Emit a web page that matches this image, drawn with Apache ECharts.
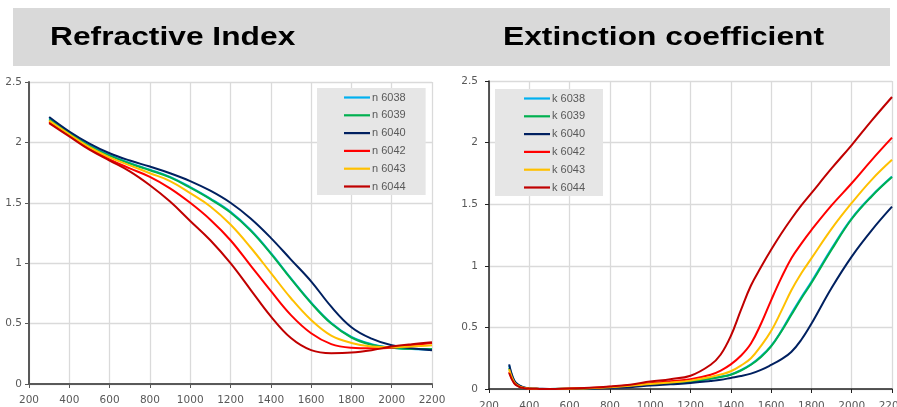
<!DOCTYPE html>
<html>
<head>
<meta charset="utf-8">
<script src="https://cdn.jsdelivr.net/npm/echarts@6/dist/echarts.min.js"></script>
<style>
html,body{margin:0;padding:0;background:#fff;}
#c{width:897px;height:407px;}
</style>
</head>
<body>
<div id="c"></div>
<script>
// ---- Data ----
const titleN = "Refractive Index";
const titleK = "Extinction coefficient";
const sampleIds = ["6038", "6039", "6040", "6042", "6043", "6044"];
const xTicks = [200, 400, 600, 800, 1000, 1200, 1400, 1600, 1800, 2000, 2200];
const yTicks = [0, 0.5, 1, 1.5, 2, 2.5];

// wavelength (nm) for refractive index curves
const wlN = [300, 400, 500, 600, 700, 800, 900, 1000, 1100, 1200, 1300, 1400, 1500, 1600, 1700, 1800, 1900, 2000, 2100, 2200];
const n6038 = [2.20, 2.08, 1.975, 1.895, 1.83, 1.775, 1.715, 1.63, 1.535, 1.425, 1.275, 1.085, 0.875, 0.675, 0.505, 0.39, 0.33, 0.30, 0.29, 0.285];
const n6039 = [2.19, 2.075, 1.97, 1.89, 1.825, 1.77, 1.71, 1.625, 1.53, 1.42, 1.27, 1.08, 0.87, 0.67, 0.50, 0.385, 0.325, 0.30, 0.29, 0.29];
const n6040 = [2.21, 2.09, 1.99, 1.91, 1.85, 1.80, 1.745, 1.68, 1.60, 1.50, 1.37, 1.21, 1.03, 0.85, 0.64, 0.47, 0.375, 0.32, 0.295, 0.28];
const n6042 = [2.17, 2.06, 1.95, 1.86, 1.785, 1.715, 1.62, 1.50, 1.36, 1.19, 0.98, 0.77, 0.57, 0.42, 0.33, 0.30, 0.295, 0.30, 0.32, 0.34];
const n6043 = [2.18, 2.067, 1.96, 1.876, 1.81, 1.745, 1.68, 1.58, 1.47, 1.32, 1.13, 0.92, 0.71, 0.53, 0.40, 0.34, 0.31, 0.305, 0.31, 0.32];
const n6044 = [2.16, 2.05, 1.94, 1.85, 1.76, 1.645, 1.51, 1.35, 1.19, 1.00, 0.78, 0.56, 0.38, 0.28, 0.255, 0.26, 0.28, 0.31, 0.33, 0.345];

// wavelength (nm) for extinction coefficient curves
const wlK = [300, 325, 350, 375, 400, 450, 500, 600, 700, 800, 900, 1000, 1100, 1200, 1300, 1350, 1400, 1450, 1500, 1550, 1600, 1650, 1700, 1750, 1800, 1900, 2000, 2100, 2200];
const k6038 = [0.19, 0.065, 0.027, 0.011, 0.004, 0.001, 0, 0.002, 0.005, 0.012, 0.022, 0.035, 0.047, 0.061, 0.085, 0.099, 0.118, 0.153, 0.20, 0.265, 0.35, 0.47, 0.61, 0.745, 0.87, 1.14, 1.385, 1.57, 1.725];
const k6039 = [0.17, 0.06, 0.025, 0.01, 0.004, 0.001, 0, 0.002, 0.005, 0.012, 0.022, 0.035, 0.047, 0.060, 0.083, 0.097, 0.116, 0.15, 0.197, 0.26, 0.346, 0.465, 0.60, 0.735, 0.86, 1.13, 1.38, 1.565, 1.72];
const k6040 = [0.20, 0.07, 0.03, 0.012, 0.005, 0.002, 0, 0, 0.003, 0.008, 0.015, 0.028, 0.038, 0.048, 0.065, 0.075, 0.09, 0.105, 0.125, 0.155, 0.195, 0.24, 0.30, 0.40, 0.53, 0.82, 1.075, 1.29, 1.48];
const k6042 = [0.14, 0.05, 0.02, 0.008, 0.003, 0.001, 0, 0.004, 0.009, 0.018, 0.03, 0.047, 0.062, 0.08, 0.116, 0.15, 0.20, 0.27, 0.37, 0.53, 0.72, 0.90, 1.06, 1.18, 1.29, 1.49, 1.67, 1.86, 2.04];
const k6043 = [0.16, 0.055, 0.022, 0.009, 0.004, 0.001, 0, 0.003, 0.007, 0.015, 0.026, 0.04, 0.053, 0.068, 0.097, 0.117, 0.144, 0.19, 0.25, 0.35, 0.47, 0.63, 0.80, 0.94, 1.06, 1.30, 1.51, 1.70, 1.86];
const k6044 = [0.13, 0.045, 0.018, 0.007, 0.003, 0.001, 0, 0.005, 0.01, 0.02, 0.035, 0.06, 0.08, 0.108, 0.197, 0.28, 0.43, 0.64, 0.84, 0.99, 1.13, 1.26, 1.38, 1.49, 1.59, 1.79, 1.98, 2.18, 2.37];

const nSeries = [n6038, n6039, n6040, n6042, n6043, n6044];
const kSeries = [k6038, k6039, k6040, k6042, k6043, k6044];
const colors = ["#00b0f0", "#00b050", "#002060", "#ff0000", "#ffc000", "#c00000"];

// ---- Chart ----
const chart = echarts.init(document.getElementById('c'), null, {renderer: 'canvas'});
const labelFont = {fontFamily: 'DejaVu Sans', fontSize: 10.5, color: '#595959'};

function xAx(gridIndex, axisColor, axisWidth, margin) {
  return {
    type: 'value', gridIndex: gridIndex, min: xTicks[0], max: xTicks[xTicks.length - 1], interval: 200,
    axisLine: {show: true, onZero: false, lineStyle: {color: axisColor, width: axisWidth}},
    axisTick: {show: true, length: 4, lineStyle: {color: axisColor}},
    axisLabel: Object.assign({margin: margin, showMinLabel: true, showMaxLabel: true, hideOverlap: false, formatter: v => String(v)}, labelFont),
    splitLine: {show: true, lineStyle: {color: '#dadada', width: 1.3}}
  };
}
function yAx(gridIndex, axisColor, axisWidth, margin) {
  return {
    type: 'value', gridIndex: gridIndex, min: yTicks[0], max: yTicks[yTicks.length - 1], interval: 0.5,
    axisLine: {show: true, lineStyle: {color: axisColor, width: axisWidth}},
    axisTick: {show: true, length: 4, lineStyle: {color: axisColor}},
    axisLabel: Object.assign({margin: margin, formatter: v => String(v)}, labelFont),
    splitLine: {show: true, lineStyle: {color: '#dadada', width: 1.3}}
  };
}

const series = [];
sampleIds.forEach((id, i) => {
  series.push({
    name: 'n ' + id, type: 'line', xAxisIndex: 0, yAxisIndex: 0,
    data: wlN.map((w, j) => [w, nSeries[i][j]]),
    symbol: 'none', showSymbol: false, smooth: 0.4,
    lineStyle: {width: 2, color: colors[i]}, itemStyle: {color: colors[i]},
    silent: true, animation: false
  });
});
sampleIds.forEach((id, i) => {
  series.push({
    name: 'k ' + id, type: 'line', xAxisIndex: 1, yAxisIndex: 1,
    data: wlK.map((w, j) => [w, kSeries[i][j]]),
    symbol: 'none', showSymbol: false, smooth: 0.4,
    lineStyle: {width: 2, color: colors[i]}, itemStyle: {color: colors[i]},
    silent: true, animation: false
  });
});

function legendCfg(prefix, left, top, padding) {
  return {
    data: sampleIds.map((id, i) => ({name: prefix + id, icon: 'path://M0,0 L26,0 L26,2.2 L0,2.2 Z', itemStyle: {color: colors[i]}})),
    orient: 'vertical', left: left, top: top,
    backgroundColor: '#e6e6e6', padding: padding,
    itemWidth: 26, itemHeight: 14, itemGap: 6.8,
    selectedMode: false,
    textStyle: {fontFamily: 'Liberation Sans', fontSize: 11, color: '#595959', padding: [0, 0, 0, -3]}
  };
}

chart.setOption({
  animation: false,
  backgroundColor: '#ffffff',
  grid: [
    {left: 29, right: 465, top: 82, bottom: 23, outerBoundsMode: 'none', containLabel: false},
    {left: 489, right: 5, top: 81, bottom: 18, outerBoundsMode: 'none', containLabel: false}
  ],
  xAxis: [xAx(0, '#595959', 2, 11), xAx(1, '#222222', 1.5, 12)],
  yAxis: [yAx(0, '#595959', 2, 7), yAx(1, '#222222', 1.5, 11)],
  legend: [
    legendCfg('n ', 317, 88, [4, 20, 3, 27]),
    legendCfg('k ', 495, 89, [4, 18, 3, 29])
  ],
  graphic: [
    {type: 'rect', left: 13, top: 8, shape: {width: 877, height: 58}, style: {fill: '#d9d9d9'}, silent: true, z: -1},
    {type: 'text', x: 50, y: 38, scaleX: 1.27, style: {text: titleN, fontFamily: 'Liberation Sans', fontWeight: 'bold', fontSize: 25, fill: '#000', verticalAlign: 'middle', align: 'left'}, silent: true},
    {type: 'text', x: 503, y: 38, scaleX: 1.27, style: {text: titleK, fontFamily: 'Liberation Sans', fontWeight: 'bold', fontSize: 25, fill: '#000', verticalAlign: 'middle', align: 'left'}, silent: true}
  ],
  series: series
});
</script>
</body>
</html>
